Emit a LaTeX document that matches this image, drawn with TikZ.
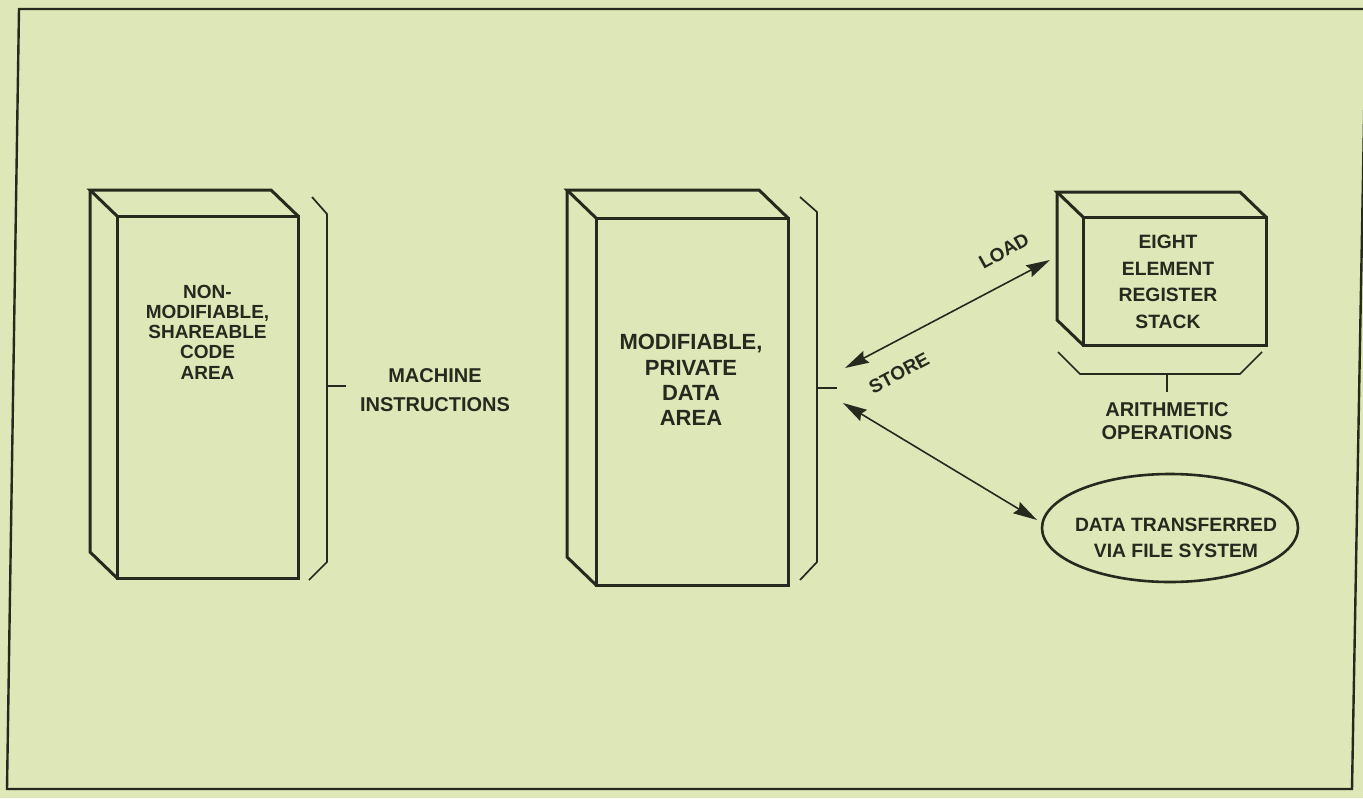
\documentclass[tikz,border=0pt]{standalone}
\usepackage{fontspec}
\setmainfont{Liberation Sans}
\usetikzlibrary{arrows.meta,shapes.geometric,calc}
\definecolor{paper}{RGB}{221,231,184}
\definecolor{ink}{RGB}{38,42,30}
\begin{document}
\begin{tikzpicture}[x=1pt,y=-1pt,
  frame/.style={draw=ink, line width=2.4pt, line join=miter},
  face/.style={draw=ink, line width=3pt, rectangle, outer sep=0pt, inner sep=0pt},
  depth/.style={draw=ink, line width=3pt, line join=miter},
  bracketline/.style={draw=ink, line width=1.7pt},
  lbl/.style={text=ink, align=center, inner sep=0pt},
  dbl/.style={draw=ink, line width=1.6pt, {Stealth[length=24pt,width=13pt,inset=3pt]}-{Stealth[length=24pt,width=13pt,inset=3pt]}},
  fileoval/.style={draw=ink, ellipse, line width=2.6pt, inner sep=0pt, outer sep=0pt}
]
\useasboundingbox (0,0) rectangle (1363,798);
\fill[paper] (0,0) rectangle (1363,798);
\draw[frame] (19,9) -- (1366,9) -- (1352,789) -- (7,789) -- cycle;

% ---- box 1: code area
\node[face, minimum width=181pt, minimum height=362pt] (code) at (207.5,397) {};
\draw[depth] (code.north west) -- ++(-27,-26) coordinate (codeb) -- ($(code.north east)+(-27,-26)$) -- (code.north east);
\draw[depth] (codeb) -- ($(code.south west)+(-27,-26)$) -- (code.south west);
\node[lbl, font=\fontsize{19}{20.2}\selectfont\bfseries] (codetxt) at (207.5,332) {NON-\\MODIFIABLE,\\SHAREABLE\\CODE\\AREA};
\draw[bracketline] (312,197) -- (327,214) -- (327,562) -- (309,580);
\coordinate (codetickA) at (327,386);
\coordinate (codetickB) at (346,386);
\draw[bracketline] (codetickA) -- (codetickB);
\node[lbl, font=\fontsize{20}{28.7}\selectfont\bfseries] (mach) at (435,390) {MACHINE\\INSTRUCTIONS};

% ---- box 2: data area
\node[face, minimum width=192pt, minimum height=367pt] (data) at (692,401.5) {};
\draw[depth] (data.north west) -- ++(-29,-28) coordinate (datab) -- ($(data.north east)+(-29,-28)$) -- (data.north east);
\draw[depth] (datab) -- ($(data.south west)+(-29,-28)$) -- (data.south west);
\node[lbl, font=\fontsize{22}{25.3}\selectfont\bfseries] (datatxt) at (691,380) {MODIFIABLE,\\PRIVATE\\DATA\\AREA};
\draw[bracketline] (800,197) -- (817,212) -- (817,562) -- (800,580);
\coordinate (datatickA) at (817,388);
\coordinate (datatickB) at (837,388);
\draw[bracketline] (datatickA) -- (datatickB);

% ---- register stack
\node[face, minimum width=183pt, minimum height=128pt] (stack) at (1174.5,281) {};
\draw[depth] (stack.north west) -- ++(-26,-25) coordinate (stackb) -- ($(stack.north east)+(-26,-25)$) -- (stack.north east);
\draw[depth] (stackb) -- ($(stack.south west)+(-26,-25)$) -- (stack.south west);
\node[lbl, font=\fontsize{19.3}{26.7}\selectfont\bfseries] (stacktxt) at (1168,282) {EIGHT\\ELEMENT\\REGISTER\\STACK};
\draw[bracketline] (1058,352) -- (1080,374) -- (1240,374) -- (1262,352);
\coordinate (stacktickA) at (1167,374);
\coordinate (stacktickB) at (1167,392);
\draw[bracketline] (stacktickA) -- (stacktickB);
\node[lbl, font=\fontsize{20}{23}\selectfont\bfseries] (arith) at (1167,421) {ARITHMETIC\\OPERATIONS};

% ---- file system oval
\node[fileoval, minimum width=256pt, minimum height=108pt] (file) at (1170,528) {};
\node[lbl, font=\fontsize{19.3}{25.5}\selectfont\bfseries] (filetxt) at (1176,538) {DATA TRANSFERRED\\VIA FILE SYSTEM};

% ---- arrows
\coordinate (storeend) at (845,368);
\coordinate (loadend) at (1050,260);
\draw[dbl] (storeend) -- (loadend);
\node[lbl, font=\fontsize{19}{22}\selectfont\bfseries, rotate=29] (loadlbl) at (1004,251) {LOAD};
\node[lbl, font=\fontsize{19}{22}\selectfont\bfseries, rotate=28] (storelbl) at (899,373) {STORE};
\coordinate (fsend) at (843,403);
\coordinate (ovalend) at (1037,520);
\draw[dbl] (fsend) -- (ovalend);
\end{tikzpicture}
\end{document}
